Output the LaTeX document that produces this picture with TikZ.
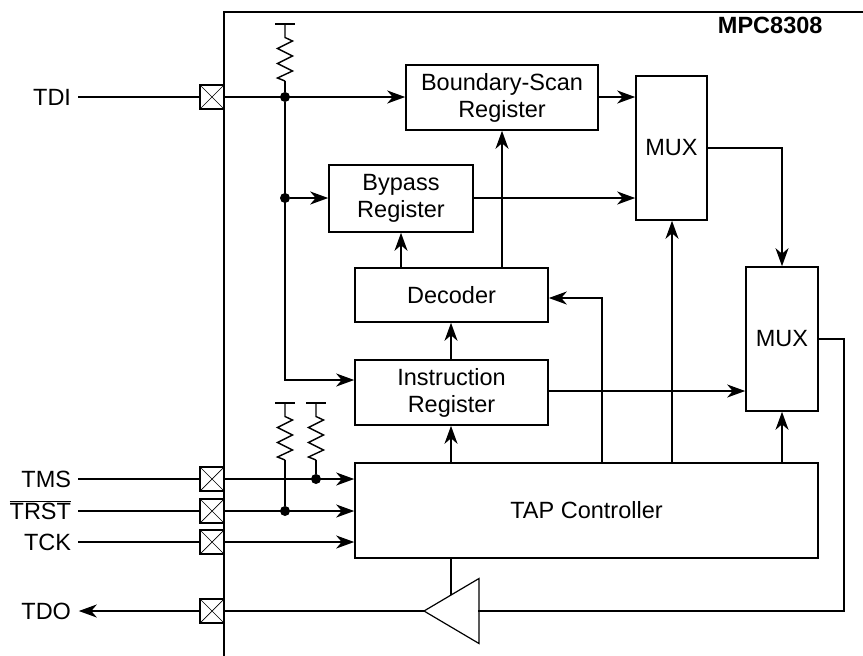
\documentclass[tikz,border=0pt]{standalone}
\usepackage{fontspec}
\setmainfont{Liberation Sans}
\usetikzlibrary{positioning,shapes.geometric,arrows.meta,calc}
\tikzset{
  >={Stealth[length=18pt,width=13pt,inset=5.5pt]},
  every node/.style={font=\fontsize{23.5}{27}\selectfont},
  % --- nodes
  b/.style    = {draw, line width=1.9pt, align=center, inner sep=0pt, outer sep=0pt},
  pad/.style  = {draw, line width=1.7pt, minimum width=24pt, minimum height=24pt,
                 inner sep=0pt, outer sep=0pt,
                 path picture={\draw[line width=0.7pt]
                   (path picture bounding box.north west)--(path picture bounding box.south east)
                   (path picture bounding box.south west)--(path picture bounding box.north east);}},
  sig/.style  = {anchor=east, inner ysep=0pt, inner xsep=7pt, outer sep=0pt,
                 text height=17pt, text depth=0pt},
  bufr/.style = {draw, line width=1.2pt, isosceles triangle, isosceles triangle apex angle=61,
                 isosceles triangle stretches, shape border rotate=180, inner sep=0pt,
                 minimum width=65pt, minimum height=55pt, outer sep=0pt},
  dot/.style  = {circle, fill, inner sep=0pt, minimum size=10pt},
  % --- edges
  w/.style    = {line width=1.9pt},
  e/.style    = {w, ->, shorten >=0.8pt},
  pullup/.pic = {
    \draw[line width=1.4pt] (-10,0) -- (10,0);
    \draw[line width=1.4pt] (0,0) -- (0,13.5) -- (7.5,17) -- (-7.5,24.5) -- (7.5,32)
      -- (-7.5,39.5) -- (7.5,47) -- (-7.5,54) -- (0,57);
    \coordinate (-end) at (0,57);
  },
}
\begin{document}
\begin{tikzpicture}[x=1pt,y=-1pt]
  \useasboundingbox (0,0) rectangle (863,656);
  \draw[w] (224,656) -- (224,12) -- (863,12);
  \node[anchor=east, font=\fontsize{23.5}{27}\selectfont\bfseries] (part) at (826,25.5) {MPC8308};

  \node[b, minimum width=192pt, minimum height=65pt] (scan) at (502,97.5) {Boundary-Scan\\Register};
  \node[b, minimum width=144pt, minimum height=67pt] (bypass) at (401,198.5) {Bypass\\Register};
  \node[b, minimum width=193pt, minimum height=54pt] (decoder) at (451.5,295) {Decoder};
  \node[b, minimum width=193pt, minimum height=65pt] (instr) at (451.5,392.5) {Instruction\\Register};
  \node[b, minimum width=463pt, minimum height=95pt] (tap) at (586.5,510.5) {TAP Controller};
  \node[b, minimum width=71pt, minimum height=144pt] (muxa) at (671.5,148) {MUX};
  \node[b, minimum width=72pt, minimum height=144pt] (muxb) at (782,339) {MUX};
  \node[bufr, anchor=apex] (buf) at (424,611) {};

  \node[pad] (ptdi) at (212,97) {};
  \node[pad] (ptms) at (212,479) {};
  \node[pad] (ptrst) at (212,511) {};
  \node[pad] (ptck) at (212,542) {};
  \node[pad] (ptdo) at (212,611) {};

  \node[sig] (tdi) at (78,97) {TDI};
  \node[sig] (tms) at (78,479) {TMS};
  \node[sig] (trst) at (78,511) {$\overline{\hbox{TRST}}$};
  \node[sig] (tck) at (78,542) {TCK};
  \node[sig] (tdo) at (78,611) {TDO};

  \node[dot] (da) at (285,97) {};
  \node[dot] (db) at (285,198) {};
  \node[dot] (dc) at (316,479) {};
  \node[dot] (dd) at (285,511) {};
  \pic (ra) at (285,24) {pullup};
  \pic (rb) at (285,403) {pullup};
  \pic (rc) at (316,403) {pullup};
  \coordinate (ii) at (285,380);
  \coordinate (io) at (548,391);
  \coordinate (fb) at (602,298);
  \coordinate (rt) at (844,339);
  \coordinate (cx) at (451,595);
  \coordinate (my) at (672,220);

  \draw[w] (tdi) -- (ptdi);
  \draw[w] (tms) -- (ptms);
  \draw[w] (trst) -- (ptrst);
  \draw[w] (tck) -- (ptck);
  \draw[e] (ptdo) -- (tdo.east);
  \draw[e] (ptdi) -- (ptdi -| scan.west);
  \draw[e] (ptms) -- (ptms -| tap.west);
  \draw[e] (ptrst) -- (ptrst -| tap.west);
  \draw[e] (ptck) -- (ptck -| tap.west);
  \draw[w] (ra-end) -- (da);
  \draw[w] (rb-end) -- (dd);
  \draw[w] (rc-end) -- (dc);
  \draw[e] (da) -- (ii) -- (ii -| instr.west);
  \draw[e] (db) -- (db -| bypass.west);
  \draw[e] (ptdi -| scan.east) -- (ptdi -| muxa.west);
  \draw[e] (db -| bypass.east) -- (db -| muxa.west);
  \draw[e] (decoder.north -| bypass.south) -- (bypass.south);
  \draw[e] (decoder.north -| scan.south) -- (scan.south);
  \draw[e] (cx |- instr.north) -- (cx |- decoder.south);
  \draw[e] (cx |- tap.north) -- (cx |- instr.south);
  \draw[e] (io) -- (io -| muxb.west);
  \draw[e] (my |- tap.north) -- (my);
  \draw[e] (muxb.south |- tap.north) -- (muxb.south);
  \draw[e] (fb |- tap.north) -- (fb) -- (fb -| decoder.east);
  \draw[e] (muxa.east) -- (muxa.east -| muxb.north) -- (muxb.north);
  \draw[w] (muxb.east) -- (rt) -- (rt |- buf.apex) -- (buf.apex -| 478,0);
  \draw[w] (cx |- tap.south) -- (cx);
  \draw[w] (buf.apex) -- (ptdo);
\end{tikzpicture}
\end{document}
